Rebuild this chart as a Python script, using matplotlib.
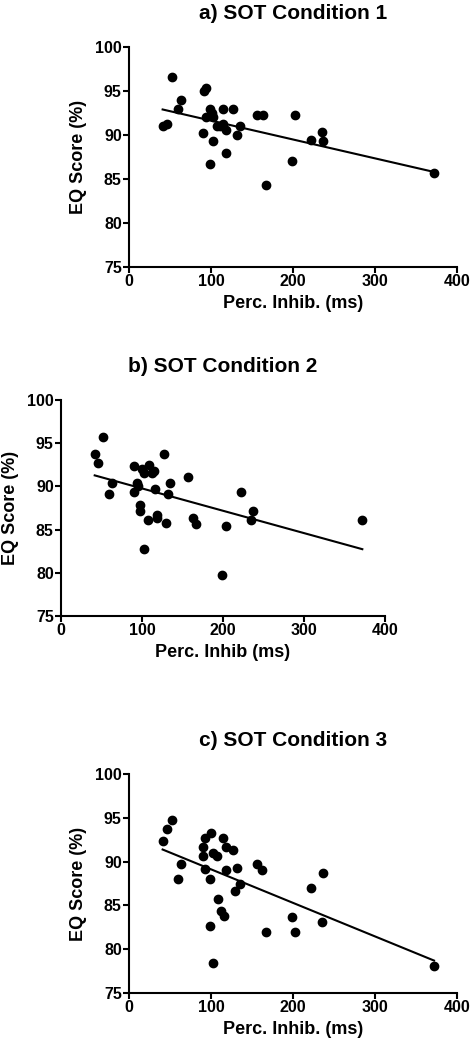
import numpy as np
import matplotlib
matplotlib.use("Agg")
import matplotlib.pyplot as plt

plt.rcParams['font.family'] = ['Liberation Sans', 'DejaVu Sans']
plt.rcParams['font.weight'] = 'bold'

# ---------- datos ----------
titulos = ["a) SOT Condition 1", "b) SOT Condition 2", "c) SOT Condition 3"]
etiquetas_x = ["Perc. Inhib. (ms)", "Perc. Inhib (ms)", "Perc. Inhib. (ms)"]
etiqueta_y = "EQ Score (%)"

x_a = [41, 46, 52, 59.5, 63.5, 90.8, 91.6, 93.7, 94.1, 98.2, 99, 101, 102, 103,
       107, 111, 114.5, 115, 118.5, 118.5, 126.7, 131.6, 135.6, 156, 163, 167,
       198.8, 203, 222, 235.4, 236.7, 372]
y_a = [91.0, 91.3, 96.6, 93.0, 94.0, 90.2, 95.0, 92.0, 95.3, 86.7, 93.0, 92.5, 89.3, 92.0,
       91.0, 91.0, 93.0, 91.3, 90.6, 88.0, 93.0, 90.0, 91.0, 92.3, 92.3, 84.3,
       87.0, 92.3, 89.4, 90.3, 89.3, 85.7]

x_b = [41.6, 45.7, 51.9, 59.7, 63.4, 90.5, 90.5, 93.8, 94.5, 97.9, 97.9, 100, 102.9,
       102, 107, 109, 112.3, 115, 115.6, 118.5, 118.5, 126.7, 130, 131.7, 135,
       156.8, 162.6, 166.7, 198.8, 203.3, 221.8, 235, 236.6, 372]
y_b = [93.7, 92.7, 95.7, 89.1, 90.4, 92.4, 89.4, 90.4, 90.0, 87.8, 87.1, 92.0, 91.5,
       82.8, 86.1, 92.5, 91.5, 91.8, 89.7, 86.7, 86.3, 93.7, 85.8, 89.1, 90.4,
       91.1, 86.4, 85.7, 79.8, 85.4, 89.4, 86.1, 87.1, 86.1]

x_c = [41, 46, 52, 59.8, 63.4, 90.2, 90.2, 93, 93, 99.6, 98.4, 98.4, 102.4, 103,
       107, 109, 111.8, 114.6, 115.9, 117.9, 118.7, 126.8, 129.7, 131.7, 135,
       156.5, 162.6, 166.7, 198.8, 202.8, 222, 235.4, 236.6, 372]
y_c = [92.3, 93.7, 94.7, 88.0, 89.7, 91.7, 90.6, 92.7, 89.1, 93.3, 88.0, 82.7, 78.4, 91.0,
       90.6, 85.7, 84.4, 92.7, 83.75, 91.7, 89.05, 91.3, 86.7, 89.3, 87.4,
       89.7, 89.0, 82.0, 83.7, 82.0, 87.0, 83.1, 88.7, 78.1]

# recta de regresion (ordenada, pendiente)
ordenadas = [93.78, 92.35, 92.95]
pendientes = [-0.02145, -0.02585, -0.0383]

# ---------- figura ----------
W, H = 473, 1050
fig = plt.figure(figsize=(W / 100, H / 100), dpi=100)

# cajas de los ejes en pixeles: izq, der, arriba, abajo
cajas = [(129, 457, 47, 267), (61, 385, 400, 616), (129, 457, 774, 993)]
datos = [(x_a, y_a), (x_b, y_b), (x_c, y_c)]

for i, (xs, ys) in enumerate(datos):
    l, r, t, b = cajas[i]
    ax = fig.add_axes([l / W, 1 - b / H, (r - l) / W, (b - t) / H])

    ax.scatter(xs, ys, s=36, color='black', zorder=3, clip_on=False)

    x_lin = np.array([min(xs), max(xs)])
    ax.plot(x_lin, ordenadas[i] + pendientes[i] * x_lin, color='black', lw=1.5)

    ax.set_xlim(0, 400)
    ax.set_ylim(75, 100)
    ax.set_xticks([0, 100, 200, 300, 400])
    ax.set_yticks([75, 80, 85, 90, 95, 100])

    for lado in ['top', 'right']:
        ax.spines[lado].set_visible(False)
    for lado in ['left', 'bottom']:
        ax.spines[lado].set_linewidth(1.5)

    ax.tick_params(direction='out', length=4.2, width=1.5, labelsize=11.5, pad=1)
    for lab in ax.get_xticklabels() + ax.get_yticklabels():
        lab.set_fontweight('bold')

    ax.set_title(titulos[i], fontsize=15, fontweight='bold', pad=20)
    ax.set_xlabel(etiquetas_x[i], fontsize=13, fontweight='bold', labelpad=4)
    ax.set_ylabel(etiqueta_y, fontsize=13, fontweight='bold', labelpad=6)

fig.savefig("out.png", dpi=100)
